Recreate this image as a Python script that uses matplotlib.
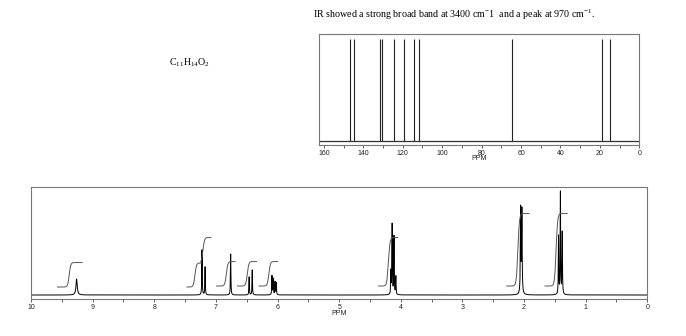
import numpy as np
import matplotlib.pyplot as plt

plt.rcParams['font.family'] = ['Liberation Sans', 'DejaVu Sans']
plt.rcParams['mathtext.fontset'] = 'custom'
plt.rcParams['mathtext.rm'] = 'Liberation Serif'
plt.rcParams['mathtext.it'] = 'Liberation Serif:italic'

# 13C spectrum: line positions (ppm)
c13_shifts = [147.0, 144.7, 131.8, 130.5, 124.4, 119.4, 114.2, 112.0, 64.8, 18.8, 14.7]

# 1H spectrum: peak positions (ppm), heights, half widths
h1_shifts = [9.26, 7.225, 7.175, 6.76, 6.46, 6.41,
             6.09, 6.07, 6.04, 6.02,
             4.16, 4.14, 4.11, 4.08,
             2.055, 2.035,
             1.44, 1.41, 1.38]
h1_heights = [16, 45, 28, 41, 18, 25,
              19, 16, 13, 12,
              23, 70, 58, 18,
              85, 83,
              58, 102, 62]
h1_hwhm = [0.012, 0.004, 0.004, 0.004, 0.004, 0.004,
           0.004, 0.004, 0.004, 0.004,
           0.004, 0.004, 0.004, 0.004,
           0.005, 0.005,
           0.004, 0.004, 0.004]

# integral traces: start, step centre, end (ppm), lower and upper level
int_left = [9.57, 7.47, 7.245, 6.99, 6.65, 6.30, 4.36, 2.28, 1.66]
int_mid = [9.38, 7.34, 7.21, 6.83, 6.49, 6.14, 4.20, 2.10, 1.48]
int_right = [9.17, 7.235, 7.085, 6.69, 6.34, 6.00, 4.05, 1.92, 1.30]
int_low = [8, 8, 32, 9, 9, 9, 9, 9, 9]
int_high = [32.5, 32, 57.5, 33.5, 33.5, 33.5, 57.5, 81.5, 81.5]

frame_col = '#777777'

fig = plt.figure(figsize=(6.86, 3.36), dpi=100)


def style_axes(ax):
    for sp in ax.spines.values():
        sp.set_color(frame_col)
        sp.set_linewidth(0.8)
    ax.tick_params(axis='x', direction='out', length=2, width=0.6, color='#444444',
                   labelsize=5, pad=1.5, labelcolor='#222222')
    ax.tick_params(axis='x', which='minor', direction='out', length=2, width=0.6, color='#444444')
    ax.set_yticks([])
    ax.set_xlabel('PPM', fontsize=5, labelpad=-1, color='#222222')


# ---- 13C panel ----
axc = fig.add_axes([0.465, 0.5685, 0.4669, 0.3304])
axc.vlines(c13_shifts, 0, 102, color='#222222', linewidth=0.8)
axc.axhline(0, color='#333333', linewidth=0.9)
axc.set_xlim(162.5, 0)
axc.set_ylim(-4, 107)
axc.set_xticks(np.arange(0, 161, 20))
axc.set_xticks(np.arange(10, 161, 20), minor=True)
style_axes(axc)

# ---- 1H panel ----
axh = fig.add_axes([0.0452, 0.1092, 0.8984, 0.3343])
ppm = np.linspace(0, 10, 40001)
spec = np.zeros_like(ppm)
for s, h, w in zip(h1_shifts, h1_heights, h1_hwhm):
    spec += h * w ** 2 / ((ppm - s) ** 2 + w ** 2)
axh.plot(ppm, spec, color='black', linewidth=0.7)

for l, m, r, lo, hi in zip(int_left, int_mid, int_right, int_low, int_high):
    xs = np.linspace(r, l, 200)
    ys = lo + (hi - lo) * 0.5 * (1 + np.tanh((m - xs) / 0.025))
    axh.plot(xs, ys, color='#555555', linewidth=0.7)

axh.set_xlim(10, 0)
axh.set_ylim(-4.3, 108)
axh.set_xticks(np.arange(0, 11, 1))
axh.set_xticks(np.arange(0.5, 10, 1), minor=True)
style_axes(axh)

# ---- text ----
fig.text(0.456, 0.955, r'IR showed a strong broad band at 3400 cm$^{-}$1  and a peak at 970 cm$^{-1}$.',
         family='Liberation Serif', fontsize=7.2, va='center', ha='left')
fig.text(0.2755, 0.812, r'$\mathrm{C_{11}H_{14}O_2}$', fontsize=7.2, ha='center', va='center')

fig.savefig('out.png', dpi=100)
